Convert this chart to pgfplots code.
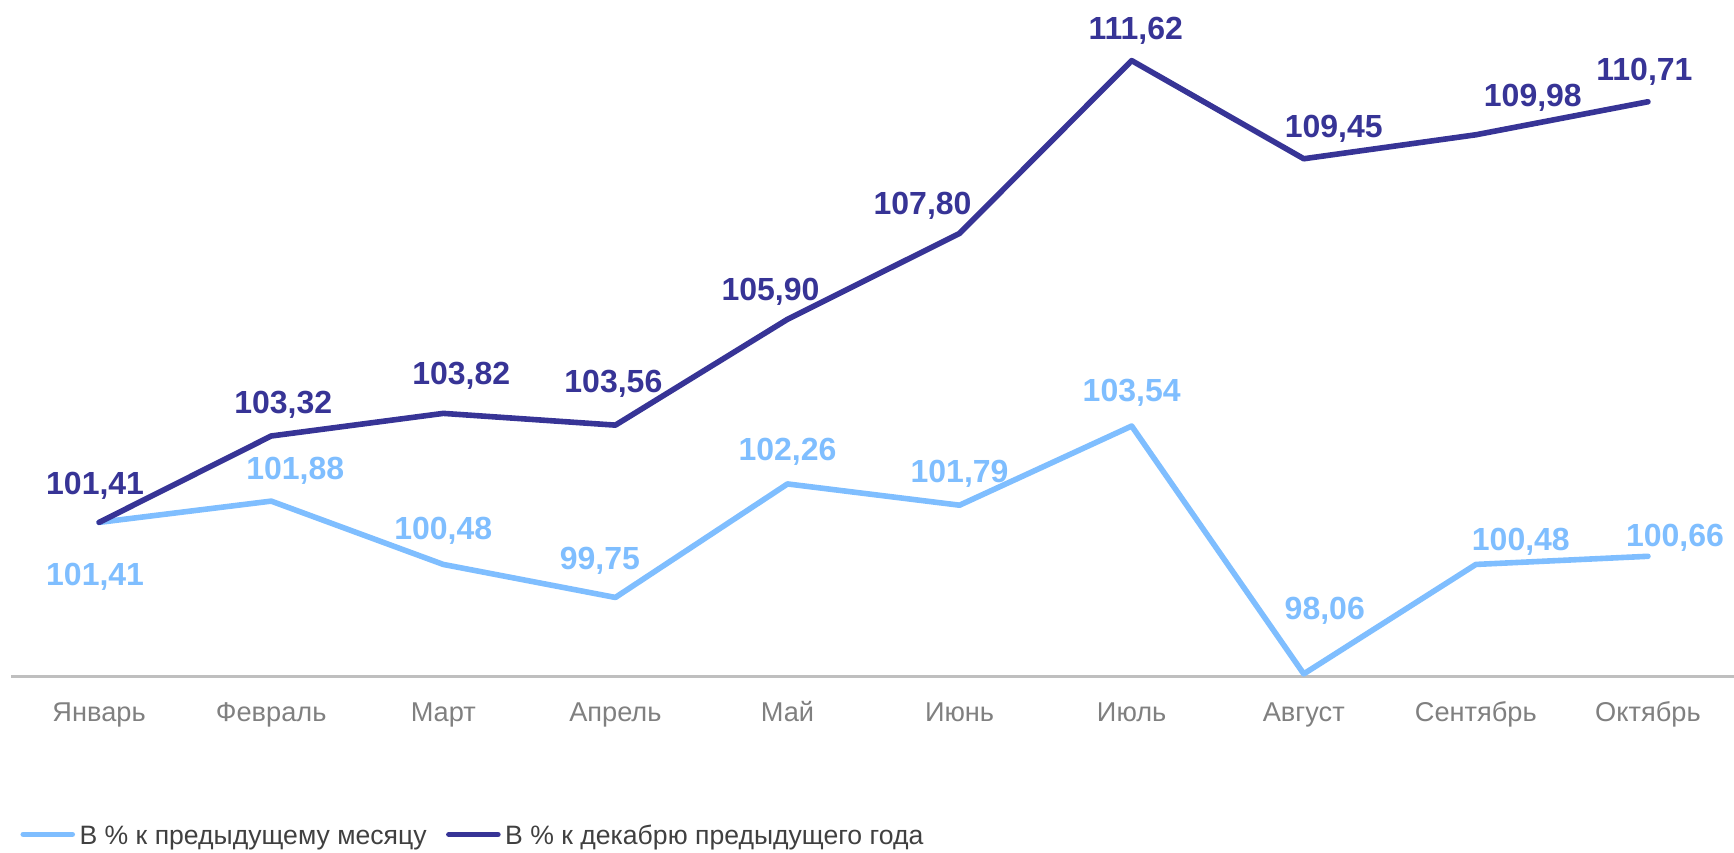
\documentclass[border=0pt]{standalone}
\usepackage{pgfplots}
\pgfplotsset{compat=1.18}
\usepackage{fontspec}
\setmainfont{Liberation Sans}
\definecolor{lightser}{RGB}{127,190,255}
\definecolor{darkser}{RGB}{55,52,150}
\definecolor{axisgray}{RGB}{191,191,191}
\definecolor{tickgray}{RGB}{128,128,128}
\definecolor{legtext}{RGB}{64,64,64}
\tikzset{dl/.style={font=\fontsize{16pt}{19pt}\selectfont\bfseries, anchor=center, inner sep=0pt, text height=11.5pt, text depth=0pt}}
\begin{document}
\begin{tikzpicture}
\path[use as bounding box] (0,0) rectangle (867pt,426pt);
\begin{axis}[
  at={(5.5pt,87.7pt)}, anchor=south west,
  scale only axis, width=861.5pt, height=338.3pt,
  xmin=-0.512, xmax=9.5, ymin=98, ymax=112.96,
  axis x line=bottom, axis y line=none,
  x axis line style={draw=axisgray, line width=1.2pt, -},
  xtick={0,1,2,3,4,5,6,7,8,9},
  xticklabels={Январь,Февраль,Март,Апрель,Май,Июнь,Июль,Август,Сентябрь,Октябрь},
  xtick style={draw=none}, ytick=\empty,
  xticklabel style={font=\fontsize{13.6pt}{16pt}\selectfont, text=tickgray, anchor=base, yshift=-20.4pt},
  clip=false,
  legend columns=2,
  legend style={draw=none, fill=none, inner sep=0pt, outer sep=0pt,
    at={(axis description cs:0.0055,-0.2474)}, anchor=south west,
    cells={anchor=center},
    nodes={inner sep=0pt, text height=9.6pt, text depth=0pt, font=\fontsize{13.3pt}{16pt}\selectfont, text=legtext},
    /tikz/every odd column/.append style={column sep=2.25pt},
    /tikz/every even column/.append style={column sep=9.75pt}},
  legend image code/.code={\draw[#1, line width=2.8pt, line cap=round] (0pt,0pt) -- (24.5pt,0pt);},
]
\addplot[lightser, line width=2.8pt, line join=round, line cap=round] coordinates {
  (0,101.41) (1,101.88) (2,100.48) (3,99.75) (4,102.26) (5,101.79) (6,103.54) (7,98.06) (8,100.48) (9,100.66)};
\addlegendentry{В \% к предыдущему месяцу}
\addplot[darkser, line width=2.8pt, line join=round, line cap=round] coordinates {
  (0,101.41) (1,103.32) (2,103.82) (3,103.56) (4,105.90) (5,107.80) (6,111.62) (7,109.45) (8,109.98) (9,110.71)};
\addlegendentry{В \% к декабрю предыдущего года}
% dark labels
\node[dl, text=darkser, xshift=-2pt, yshift=19.75pt] at (axis cs:0,101.41) {101,41};
\node[dl, text=darkser, xshift=6pt, yshift=17pt] at (axis cs:1,103.32) {103,32};
\node[dl, text=darkser, xshift=9pt, yshift=20pt] at (axis cs:2,103.82) {103,82};
\node[dl, text=darkser, xshift=-1pt, yshift=22pt] at (axis cs:3,103.56) {103,56};
\node[dl, text=darkser, xshift=-8.5pt, yshift=15pt] at (axis cs:4,105.90) {105,90};
\node[dl, text=darkser, xshift=-18.5pt, yshift=15pt] at (axis cs:5,107.80) {107,80};
\node[dl, text=darkser, xshift=2pt, yshift=16.25pt] at (axis cs:6,111.62) {111,62};
\node[dl, text=darkser, xshift=15pt, yshift=16.5pt] at (axis cs:7,109.45) {109,45};
\node[dl, text=darkser, xshift=28.5pt, yshift=20pt] at (axis cs:8,109.98) {109,98};
\node[dl, text=darkser, xshift=-1.75pt, yshift=16.5pt] at (axis cs:9,110.71) {110,71};
% light labels
\node[dl, text=lightser, xshift=-2pt, yshift=-26pt] at (axis cs:0,101.41) {101,41};
\node[dl, text=lightser, xshift=12pt, yshift=16.5pt] at (axis cs:1,101.88) {101,88};
\node[dl, text=lightser, xshift=0pt, yshift=18pt] at (axis cs:2,100.48) {100,48};
\node[dl, text=lightser, xshift=-7.75pt, yshift=19.5pt] at (axis cs:3,99.75) {99,75};
\node[dl, text=lightser, xshift=0pt, yshift=17.5pt] at (axis cs:4,102.26) {102,26};
\node[dl, text=lightser, xshift=0pt, yshift=17pt] at (axis cs:5,101.79) {101,79};
\node[dl, text=lightser, xshift=0pt, yshift=18pt] at (axis cs:6,103.54) {103,54};
\node[dl, text=lightser, xshift=10.5pt, yshift=33pt] at (axis cs:7,98.06) {98,06};
\node[dl, text=lightser, xshift=22.5pt, yshift=12.75pt] at (axis cs:8,100.48) {100,48};
\node[dl, text=lightser, xshift=13.5pt, yshift=10.5pt] at (axis cs:9,100.66) {100,66};
\end{axis}
\end{tikzpicture}
\end{document}
